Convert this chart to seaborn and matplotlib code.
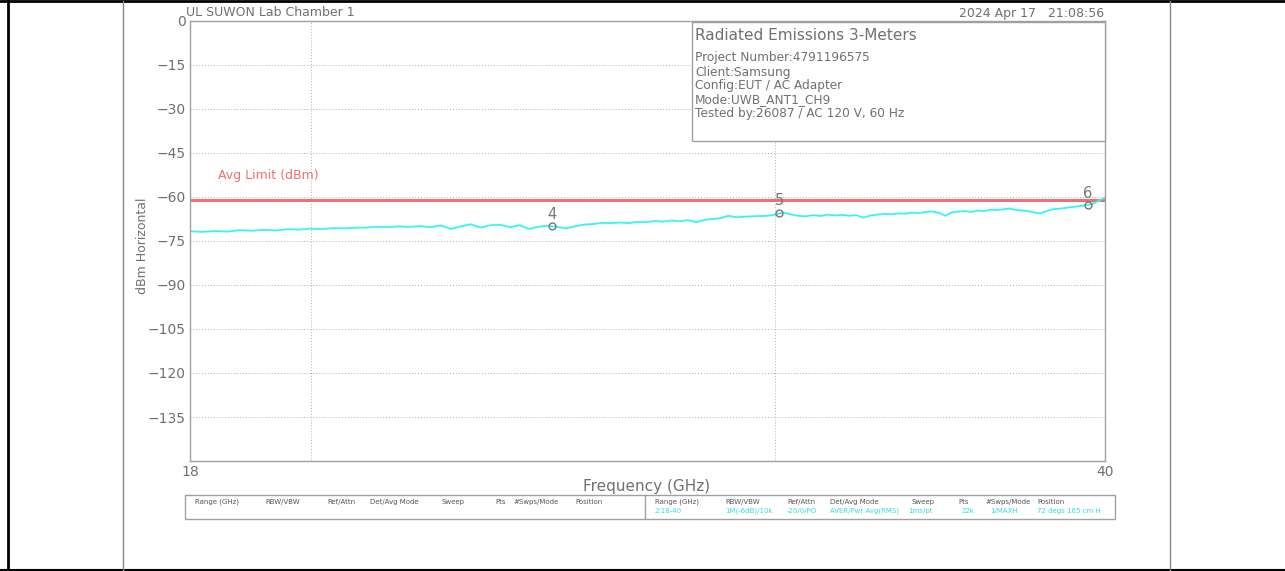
import seaborn as sns
import matplotlib.pyplot as plt
import pandas as pd
from matplotlib.lines import Line2D
from matplotlib.patches import Rectangle

# ---------------- DATA ---------------- #

freq_ghz = [
    18.0, 18.2, 18.4, 18.6, 18.8, 19.0, 19.2, 19.4, 19.6, 19.8,
    20.0, 20.2, 20.4, 20.6, 20.8, 21.0, 21.2, 21.4, 21.6, 21.8,
    22.0, 22.2, 22.4, 22.6, 22.8, 23.0, 23.2, 23.4, 23.6, 23.8,
    24.0, 24.2, 24.4, 24.6, 24.8, 25.0, 25.2, 25.4, 25.6, 25.8,
    26.0, 26.2, 26.4, 26.6, 26.8, 27.0, 27.2, 27.4, 27.6, 27.8,
    28.0, 28.2, 28.4, 28.6, 28.8, 29.0, 29.2, 29.4, 29.6, 29.8,
    30.0, 30.2, 30.4, 30.6, 30.8, 31.0, 31.2, 31.4, 31.6, 31.8,
    32.0, 32.2, 32.4, 32.6, 32.8, 33.0, 33.2, 33.4, 33.6, 33.8,
    34.0, 34.2, 34.4, 34.6, 34.8, 35.0, 35.2, 35.4, 35.6, 35.8,
    36.0, 36.2, 36.4, 36.6, 36.8, 37.0, 37.2, 37.4, 37.6, 37.8,
    38.0, 38.2, 38.4, 38.6, 38.8, 39.0, 39.2, 39.4, 39.6, 39.8,
    40.0,
]

level_dbm = [
    -71.7, -71.9, -71.6, -71.8, -71.3, -71.5, -71.2, -71.4, -71.0, -71.1,
    -70.8, -70.9, -70.6, -70.7, -70.5, -70.4, -70.2, -70.3, -70.0, -70.2,
    -69.9, -70.3, -69.7, -70.9, -70.0, -69.3, -70.4, -69.6, -69.5, -70.3,
    -69.6, -70.9, -70.1, -69.8, -70.2, -70.7, -69.9, -69.4, -69.2, -68.8,
    -68.9, -68.7, -68.9, -68.5, -68.6, -68.2, -68.4, -68.0, -68.3, -67.9,
    -68.6, -67.8, -67.5, -67.2, -66.4, -66.9, -66.7, -66.6, -66.5, -66.4,
    -66.0, -65.3, -65.9, -66.4, -66.6, -66.2, -66.5, -66.0, -66.3, -66.1,
    -66.4, -66.2, -67.0, -66.3, -66.0, -65.8, -65.9, -65.6, -65.7, -65.3,
    -65.5, -65.1, -64.9, -65.4, -66.4, -65.2, -65.0, -64.8, -65.1, -64.6,
    -64.8, -64.3, -64.5, -64.2, -63.9, -64.4, -64.6, -64.8, -65.3, -65.6,
    -64.9, -64.2, -64.0, -63.8, -63.5, -63.3, -63.0, -62.7, -62.2, -61.2,
    -60.2,
]

limit_freq = [18.0, 40.0]
limit_dbm = [-61.0, -61.0]

marker_ids = ["4", "5", "6"]
marker_freq = [24.69, 30.1, 39.4]
marker_dbm = [-69.8, -65.3, -62.7]

y_ticks = [0, -15, -30, -45, -60, -75, -90, -105, -120, -135]

info_title = "Radiated Emissions 3-Meters"
info_lines = [
    "Project Number:4791196575",
    "Client:Samsung",
    "Config:EUT / AC Adapter",
    "Mode:UWB_ANT1_CH9",
    "Tested by:26087 / AC 120 V, 60 Hz",
]

table_headers = ["Range (GHz)", "RBW/VBW", "Ref/Attn", "Det/Avg Mode",
                 "Sweep", "Pts", "#Swps/Mode", "Position"]
table_values = ["2:18-40", "1M(-6dB)/10k", "-20/0/PO", "AVER/Pwr Avg(RMS)",
                "1ms/pt", "22k", "1/MAXH", "72 degs 165 cm H"]

# ---------------- STYLE ---------------- #

sns.set_style("white")
plt.rcParams["font.family"] = ["DejaVu Sans"]

TXT = "#707070"
FRAME = "#a0a0a0"
TRACE = "#33f5f5"
LIMIT = "#f07070"

W, H = 1285, 571
fig = plt.figure(figsize=(W / 100, H / 100), dpi=100)


def fx(px):
    return px / W


def fy(py):
    return 1 - py / H


ax = fig.add_axes([fx(190), fy(461), fx(1105) - fx(190), fy(21) - fy(461)])

trace = pd.DataFrame({"freq": freq_ghz, "level": level_dbm})
limit = pd.DataFrame({"freq": limit_freq, "level": limit_dbm})

sns.lineplot(data=limit, x="freq", y="level", ax=ax, color=LIMIT, lw=2.2)
sns.lineplot(data=trace, x="freq", y="level", ax=ax, color=TRACE, lw=1.3)

ax.set_xscale("log")
ax.set_xlim(18, 40)
ax.set_ylim(-150, 0)

ax.set_xticks([18, 20, 30, 40])
ax.set_xticklabels(["18", "", "", "40"])
ax.minorticks_off()
ax.set_yticks(y_ticks)
ax.set_yticklabels([str(t).replace("-", "\u2212") for t in y_ticks])
ax.tick_params(length=0, colors=TXT, labelsize=10)
ax.tick_params(axis="x", pad=3)
ax.tick_params(axis="y", pad=3)
ax.grid(True, color="#b0b0b0", ls=(0, (1, 2)), lw=0.7)

for sp in ax.spines.values():
    sp.set_color(FRAME)
    sp.set_linewidth(1)

ax.set_xlabel("")
ax.set_ylabel("")

# markers
ax.plot(marker_freq, marker_dbm, ls="none", marker="o", ms=5,
        mfc="none", mec="#777777", mew=1, zorder=5)
for mid, f, v in zip(marker_ids, marker_freq, marker_dbm):
    ax.annotate(mid, (f, v), textcoords="offset points", xytext=(0, 3),
                ha="center", va="bottom", fontsize=10.5, color="#777777")

ax.text(fx(218), fy(176), "Avg Limit (dBm)", transform=fig.transFigure,
        color=LIMIT, fontsize=9, va="center", ha="left")

# info box
fig.add_artist(Rectangle((fx(692), fy(141)), fx(1105) - fx(692), fy(22) - fy(141),
                         transform=fig.transFigure, fill=True, fc="white",
                         ec=FRAME, lw=1, zorder=3))
fig.text(fx(695), fy(35), info_title, fontsize=11, color=TXT,
         va="center", ha="left", zorder=4)
for i, line in enumerate(info_lines):
    fig.text(fx(695), fy(58 + 14 * i), line, fontsize=8.7, color=TXT,
             va="center", ha="left", zorder=4)

# header texts
fig.text(fx(186), fy(12), "UL SUWON Lab Chamber 1", fontsize=9, color=TXT,
         va="center", ha="left")
fig.text(fx(1104), fy(13), "2024 Apr 17   21:08:56", fontsize=9, color=TXT,
         va="center", ha="right")

fig.text(fx(143), fy(246), "dBm Horizontal", rotation=90, fontsize=9,
         color=TXT, va="center", ha="center")
fig.text(fx(647), fy(487), "Frequency (GHz)", fontsize=11, color=TXT,
         va="center", ha="center")

# settings table
fig.add_artist(Rectangle((fx(185), fy(519)), fx(1115) - fx(185), fy(495) - fy(519),
                         transform=fig.transFigure, fill=False, ec=FRAME, lw=1))
fig.add_artist(Line2D([fx(645), fx(645)], [fy(519), fy(495)], color=FRAME, lw=1))

left_cols = [195, 265, 327, 370, 442, 495, 513, 575]
right_cols = [655, 725, 787, 830, 912, 958, 985, 1037]
value_cols = [655, 725, 787, 830, 908, 962, 990, 1037]
tbl_font = ["Liberation Sans Narrow", "DejaVu Sans"]
for h, x in zip(table_headers, left_cols):
    fig.text(fx(x), fy(502), h, fontsize=5, color="#555555", family=tbl_font,
             va="center", ha="left")
for h, x in zip(table_headers, right_cols):
    fig.text(fx(x), fy(502), h, fontsize=5, color="#555555", family=tbl_font,
             va="center", ha="left")
for v, x in zip(table_values, value_cols):
    fig.text(fx(x), fy(511), v, fontsize=5, color="#33dddd", family=tbl_font,
             va="center", ha="left")

# page frame
fig.add_artist(Line2D([0, 1], [fy(1), fy(1)], color="black", lw=2))
fig.add_artist(Line2D([fx(8), fx(8)], [0, 1], color="black", lw=2))
fig.add_artist(Line2D([0, 1], [fy(570), fy(570)], color="black", lw=1.5))
fig.add_artist(Line2D([fx(123), fx(123)], [0, fy(1)], color="#888888", lw=1))
fig.add_artist(Line2D([fx(1170), fx(1170)], [0, fy(1)], color="#888888", lw=1))

fig.savefig("out.png", dpi=100)
